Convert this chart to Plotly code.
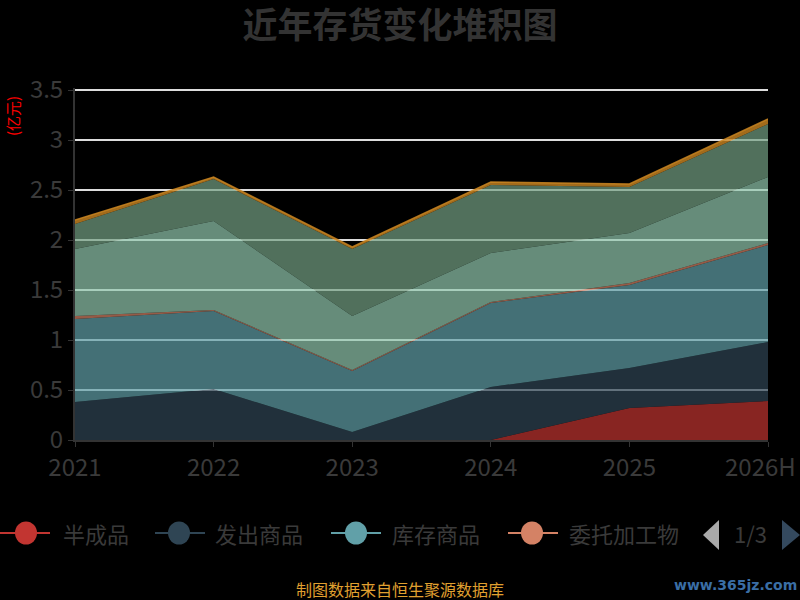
import plotly.graph_objects as go

# 年份
years = ['2021', '2022', '2023', '2024', '2025', '2026H']

# 存货构成（亿元），自下而上堆积
ban_cheng_pin = [0, 0, 0, 0, 0.32, 0.39]                   # 半成品
fa_chu_shang_pin = [0.38, 0.51, 0.08, 0.53, 0.40, 0.59]    # 发出商品
ku_cun_shang_pin = [0.83, 0.78, 0.61, 0.84, 0.83, 0.97]    # 库存商品
wei_tuo_jia_gong = [0.03, 0.01, 0.01, 0.01, 0.02, 0.02]    # 委托加工物
yuan_cai_liao = [0.67, 0.89, 0.54, 0.49, 0.50, 0.66]       # 原材料
zai_chan_pin = [0.25, 0.42, 0.67, 0.68, 0.46, 0.53]        # 在产品
zhou_zhuan_cai_liao = [0.04, 0.02, 0.02, 0.03, 0.03, 0.05]  # 周转材料

series = [
    ('半成品', ban_cheng_pin, '#c23531'),
    ('发出商品', fa_chu_shang_pin, '#2f4554'),
    ('库存商品', ku_cun_shang_pin, '#61a0a8'),
    ('委托加工物', wei_tuo_jia_gong, '#d48265'),
    ('原材料', yuan_cai_liao, '#91c7ae'),
    ('在产品', zai_chan_pin, '#749f83'),
    ('周转材料', zhou_zhuan_cai_liao, '#ca8622'),
]

# 绘图区（像素），上边多留 2px 让 3.5 的网格线能画出来
PL, PR, PT, PB = 75, 768, 88, 440


def px2x(px):
    return (px - PL) / (PR - PL)


def py2y(py):
    return (PB - py) / (PB - PT)


def rgba(hex_color, alpha):
    h = hex_color.lstrip('#')
    r, g, b = int(h[0:2], 16), int(h[2:4], 16), int(h[4:6], 16)
    return f'rgba({r},{g},{b},{alpha})'


fig = go.Figure()

# 堆积面积
for i, (name, values, color) in enumerate(series):
    is_top = i == len(series) - 1
    fig.add_trace(go.Scatter(
        x=years,
        y=values,
        name=name,
        mode='lines',
        stackgroup='inv',
        line=dict(width=1.5 if is_top else 0, color=rgba(color, 0.85)),
        fillcolor=rgba(color, 0.8 if is_top else 0.7),
        showlegend=False,
    ))

fig.update_layout(
    width=800,
    height=600,
    paper_bgcolor='#000000',
    plot_bgcolor='#000000',
    margin=dict(l=PL, r=800 - PR, t=PT, b=600 - PB, autoexpand=False),
    font=dict(family='Noto Sans CJK SC, sans-serif', color='#3a3a3a'),
    title=dict(
        text='<b>近年存货变化堆积图</b>',
        x=0.5, xanchor='center',
        y=574 / 600, yanchor='middle',
        font=dict(size=35, color='#333333'),
    ),
    showlegend=False,
    xaxis=dict(
        type='category',
        range=[0, 5],
        automargin=False,
        tickvals=years,
        # 最后一个标签贴着右边，单独用注释画
        ticktext=years[:-1] + [''],
        showgrid=False,
        showline=True,
        linecolor='#333333',
        linewidth=2,
        ticks='outside',
        ticklen=5,
        tickcolor='#333333',
        tickfont=dict(size=24, color='#3a3a3a'),
        zeroline=False,
    ),
    yaxis=dict(
        range=[0, 3.52],
        automargin=False,
        tickvals=[0, 0.5, 1, 1.5, 2, 2.5, 3, 3.5],
        ticktext=['0', '0.5', '1', '1.5', '2', '2.5', '3', '3.5'],
        showgrid=True,
        gridcolor='#dddddd',
        gridwidth=2,
        showline=True,
        linecolor='#333333',
        linewidth=2,
        ticks='outside',
        ticklen=5,
        tickcolor='#333333',
        tickfont=dict(size=24, color='#3a3a3a'),
        zeroline=False,
    ),
)

fig.add_annotation(
    text=years[-1], xref='paper', yref='paper',
    x=px2x(798), y=py2y(465),
    xanchor='right', yanchor='middle', showarrow=False,
    font=dict(size=24, color='#3a3a3a'),
)

# 纵轴单位
fig.add_annotation(
    text='(亿元)', textangle=-90,
    xref='paper', yref='paper', x=px2x(12), y=py2y(116),
    xanchor='center', yanchor='middle', showarrow=False,
    font=dict(size=15, color='#ff0000'),
)

# 图例（第一页）
legend_y = 533
legend_items = [(0, 26, 61), (155, 179, 213), (331, 356, 390), (508, 532, 567)]
for (name, values, color), (lx, cx, tx) in zip(series[:4], legend_items):
    fig.add_shape(
        type='line', xref='paper', yref='paper',
        x0=px2x(lx), x1=px2x(lx + 50), y0=py2y(legend_y), y1=py2y(legend_y),
        line=dict(color=color, width=2),
    )
    fig.add_shape(
        type='circle', xref='paper', yref='paper',
        x0=px2x(cx - 11), x1=px2x(cx + 11),
        y0=py2y(legend_y - 11.5), y1=py2y(legend_y + 11.5),
        fillcolor=color, line=dict(width=0),
    )
    fig.add_annotation(
        text=name, xref='paper', yref='paper',
        x=px2x(tx), y=py2y(legend_y),
        xanchor='left', yanchor='middle', showarrow=False,
        font=dict(size=22, color='#3a3a3a'),
    )

# 图例翻页
fig.add_shape(
    type='path', xref='paper', yref='paper',
    path=(f'M {px2x(719)} {py2y(520)} L {px2x(703)} {py2y(535)} '
          f'L {px2x(719)} {py2y(550)} Z'),
    fillcolor='#aaaaaa', line=dict(width=0),
)
fig.add_annotation(
    text='1/3', xref='paper', yref='paper', x=px2x(750), y=py2y(533),
    xanchor='center', yanchor='middle', showarrow=False,
    font=dict(size=22, color='#3a3a3a'),
)
fig.add_shape(
    type='path', xref='paper', yref='paper',
    path=(f'M {px2x(782)} {py2y(520)} L {px2x(800)} {py2y(535)} '
          f'L {px2x(782)} {py2y(550)} Z'),
    fillcolor='#34495e', line=dict(width=0),
)

# 数据来源
fig.add_annotation(
    text='制图数据来自恒生聚源数据库',
    xref='paper', yref='paper', x=px2x(400), y=py2y(589),
    xanchor='center', yanchor='middle', showarrow=False,
    font=dict(size=16, color='#e0a030'),
)
fig.add_annotation(
    text='<b>www.365jz.com</b>',
    xref='paper', yref='paper', x=px2x(735), y=py2y(585),
    xanchor='center', yanchor='middle', showarrow=False,
    font=dict(size=14, color='#3a6ea5', family='DejaVu Sans'),
)

fig.write_html(
    'out.html',
    config={'displayModeBar': False},
    post_script=("document.body.style.margin='0';"
                 "document.body.style.overflow='hidden';"
                 "document.body.style.background='#000';"),
)
